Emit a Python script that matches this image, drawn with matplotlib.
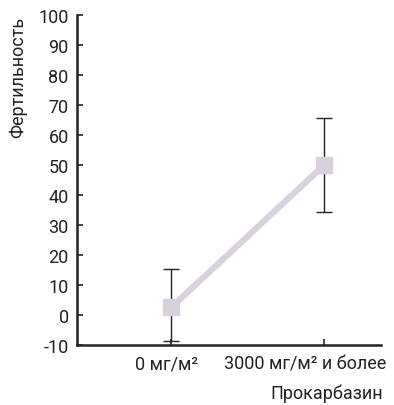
import matplotlib
matplotlib.use("Agg")
import matplotlib.pyplot as plt
from matplotlib.transforms import ScaledTranslation

categories = ["0 мг/м²", "3000 мг/м² и более"]
values = [2.5, 50.0]
err_low = [11.2, 15.7]
err_high = [12.8, 15.5]
yticks = [-10, 0, 10, 20, 30, 40, 50, 60, 70, 80, 90, 100]

plt.rcParams['font.family'] = ['Roboto', 'DejaVu Sans']

fig = plt.figure(figsize=(3.94, 4.06), dpi=100)
ax = fig.add_axes([0.1954, 0.1478, 0.967 - 0.1954, 0.9606 - 0.1478])

x = list(range(len(categories)))
ax.errorbar(x, values, yerr=[err_low, err_high], fmt='none', ecolor='#222222',
            elinewidth=1.0, capsize=6, capthick=1.0, zorder=2)
ax.plot(x, values, color='#d9d0de', linewidth=4.5, marker='s', markersize=11,
        markerfacecolor='#d9d0de', markeredgecolor='#d9d0de', zorder=3)

ax.set_xlim(-0.614, 1.37)
ax.set_ylim(-10, 100)
ax.set_yticks(yticks)
ax.set_yticklabels([str(v) for v in yticks])
ax.set_xticks(x)
ax.set_xticklabels(categories)

for s in ['top', 'right']:
    ax.spines[s].set_visible(False)
for s in ['left', 'bottom']:
    ax.spines[s].set_linewidth(1.8)
    ax.spines[s].set_color('#222222')

ax.tick_params(axis='both', direction='in', length=4, width=1.2, color='#222222',
               labelsize=13, labelcolor='#222222')
ax.tick_params(axis='y', pad=6)
ax.tick_params(axis='x', pad=7)

shifts = [-5, -19]
for lab, dx in zip(ax.get_xticklabels(), shifts):
    lab.set_transform(lab.get_transform() + ScaledTranslation(dx / 100, 0, fig.dpi_scale_trans))

fig.text(0.046, 0.81, 'Фертильность', rotation=90, ha='center', va='center',
         fontsize=13, color='#222222')
fig.text(0.972, 0.017, 'Прокарбазин', ha='right', va='baseline', fontsize=13, color='#222222')

fig.savefig('out.png', dpi=100)
